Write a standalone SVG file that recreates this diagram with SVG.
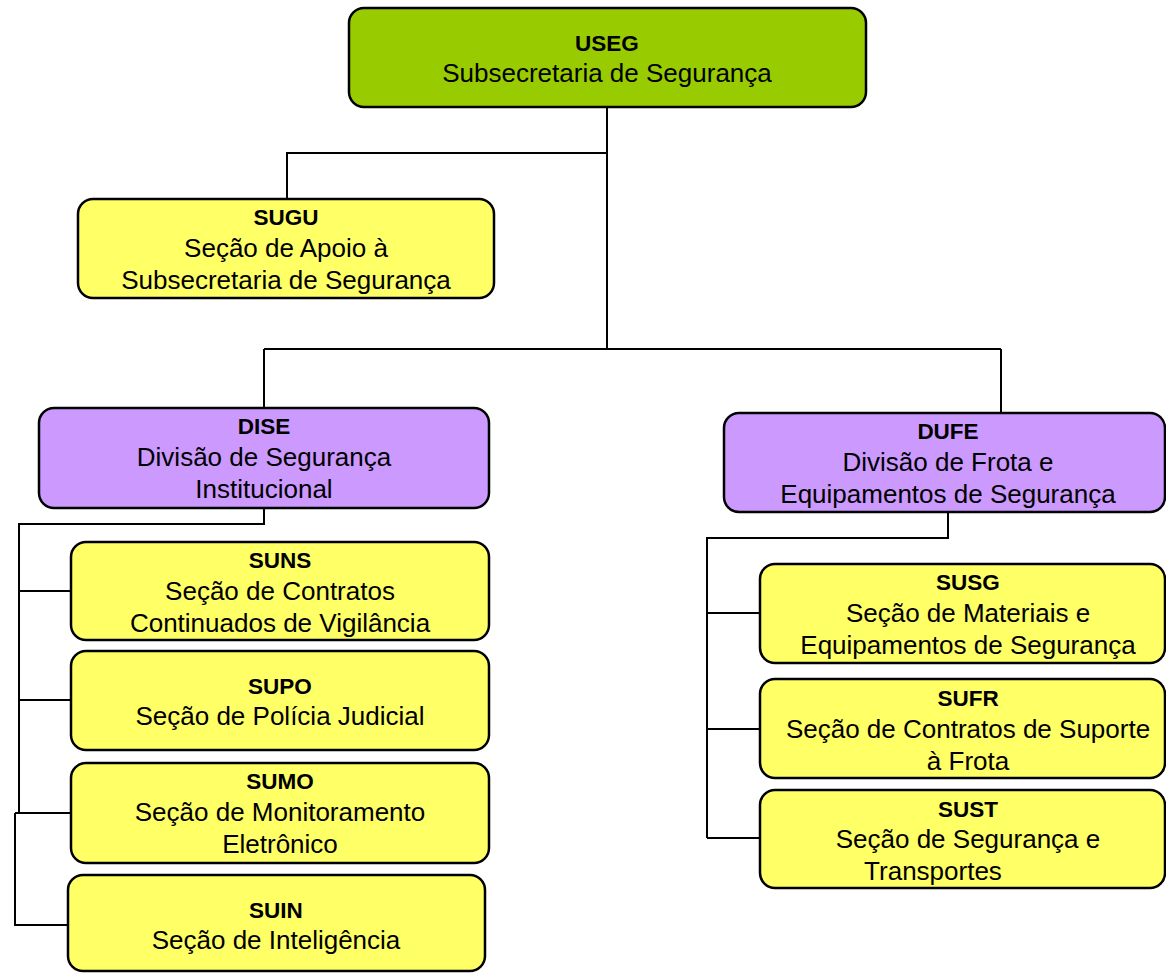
<svg xmlns="http://www.w3.org/2000/svg" width="1166" height="973" viewBox="0 0 1166 973">
<style>
.box{stroke:#000;stroke-width:2.5}
.g{fill:#99CC00}
.p{fill:#CC99FF}
.y{fill:#FFFF66}
text{font-family:"Liberation Sans","Arial",sans-serif;font-size:26px;fill:#000;text-anchor:middle}
.h{font-weight:bold;font-size:22.5px}
.c{fill:none;stroke:#000;stroke-width:2}
</style>
<rect width="1166" height="973" fill="#fff"/>
<g id="connectors">
<path class="c" d="M607 107V349M607 153H287V199M264 349H1001M264 349V408M1001 349V413"/>
<path class="c" d="M264 508V524H19V813M19 591H71M19 700H71M15 813H71M15 813V925H68"/>
<path class="c" d="M948 512V538H707V838M707 613H760M707 729H760M707 838H760"/>
</g>
<g id="USEG">
<rect class="box g" x="349" y="8" width="517" height="99" rx="15"/>
<text class="h" x="607" y="51">USEG</text>
<text x="607" y="82">Subsecretaria de Segurança</text>
</g>
<g id="SUGU">
<rect class="box y" x="78" y="199" width="416" height="99" rx="15"/>
<text class="h" x="286" y="225">SUGU</text>
<text x="286" y="257">Seção de Apoio à</text>
<text x="286" y="289">Subsecretaria de Segurança</text>
</g>
<g id="DISE">
<rect class="box p" x="39" y="408" width="450" height="100" rx="15"/>
<text class="h" x="264" y="434">DISE</text>
<text x="264" y="466">Divisão de Segurança</text>
<text x="264" y="498">Institucional</text>
</g>
<g id="DUFE">
<rect class="box p" x="724" y="413" width="441" height="99" rx="15"/>
<text class="h" x="948" y="439">DUFE</text>
<text x="948" y="471">Divisão de Frota e</text>
<text x="948" y="503">Equipamentos de Segurança</text>
</g>
<g id="SUNS">
<rect class="box y" x="71" y="542" width="418" height="98" rx="15"/>
<text class="h" x="280" y="568">SUNS</text>
<text x="280" y="600">Seção de Contratos</text>
<text x="280" y="632">Continuados de Vigilância</text>
</g>
<g id="SUPO">
<rect class="box y" x="71" y="651" width="418" height="99" rx="15"/>
<text class="h" x="280" y="694">SUPO</text>
<text x="280" y="725">Seção de Polícia Judicial</text>
</g>
<g id="SUMO">
<rect class="box y" x="71" y="763" width="418" height="100" rx="15"/>
<text class="h" x="280" y="789">SUMO</text>
<text x="280" y="821">Seção de Monitoramento</text>
<text x="280" y="853">Eletrônico</text>
</g>
<g id="SUIN">
<rect class="box y" x="68" y="875" width="417" height="96" rx="15"/>
<text class="h" x="276" y="918">SUIN</text>
<text x="276" y="949">Seção de Inteligência</text>
</g>
<g id="SUSG">
<rect class="box y" x="760" y="564" width="405" height="99" rx="15"/>
<text class="h" x="968" y="590">SUSG</text>
<text x="968" y="622">Seção de Materiais e</text>
<text x="968" y="654">Equipamentos de Segurança</text>
</g>
<g id="SUFR">
<rect class="box y" x="760" y="679" width="405" height="99" rx="15"/>
<text class="h" x="968" y="706">SUFR</text>
<text x="968" y="738">Seção de Contratos de Suporte</text>
<text x="968" y="770">à Frota</text>
</g>
<g id="SUST">
<rect class="box y" x="760" y="790" width="405" height="98" rx="15"/>
<text class="h" x="968" y="817">SUST</text>
<text x="968" y="848">Seção de Segurança e</text>
<text x="933" y="880">Transportes</text>
</g>
</svg>
